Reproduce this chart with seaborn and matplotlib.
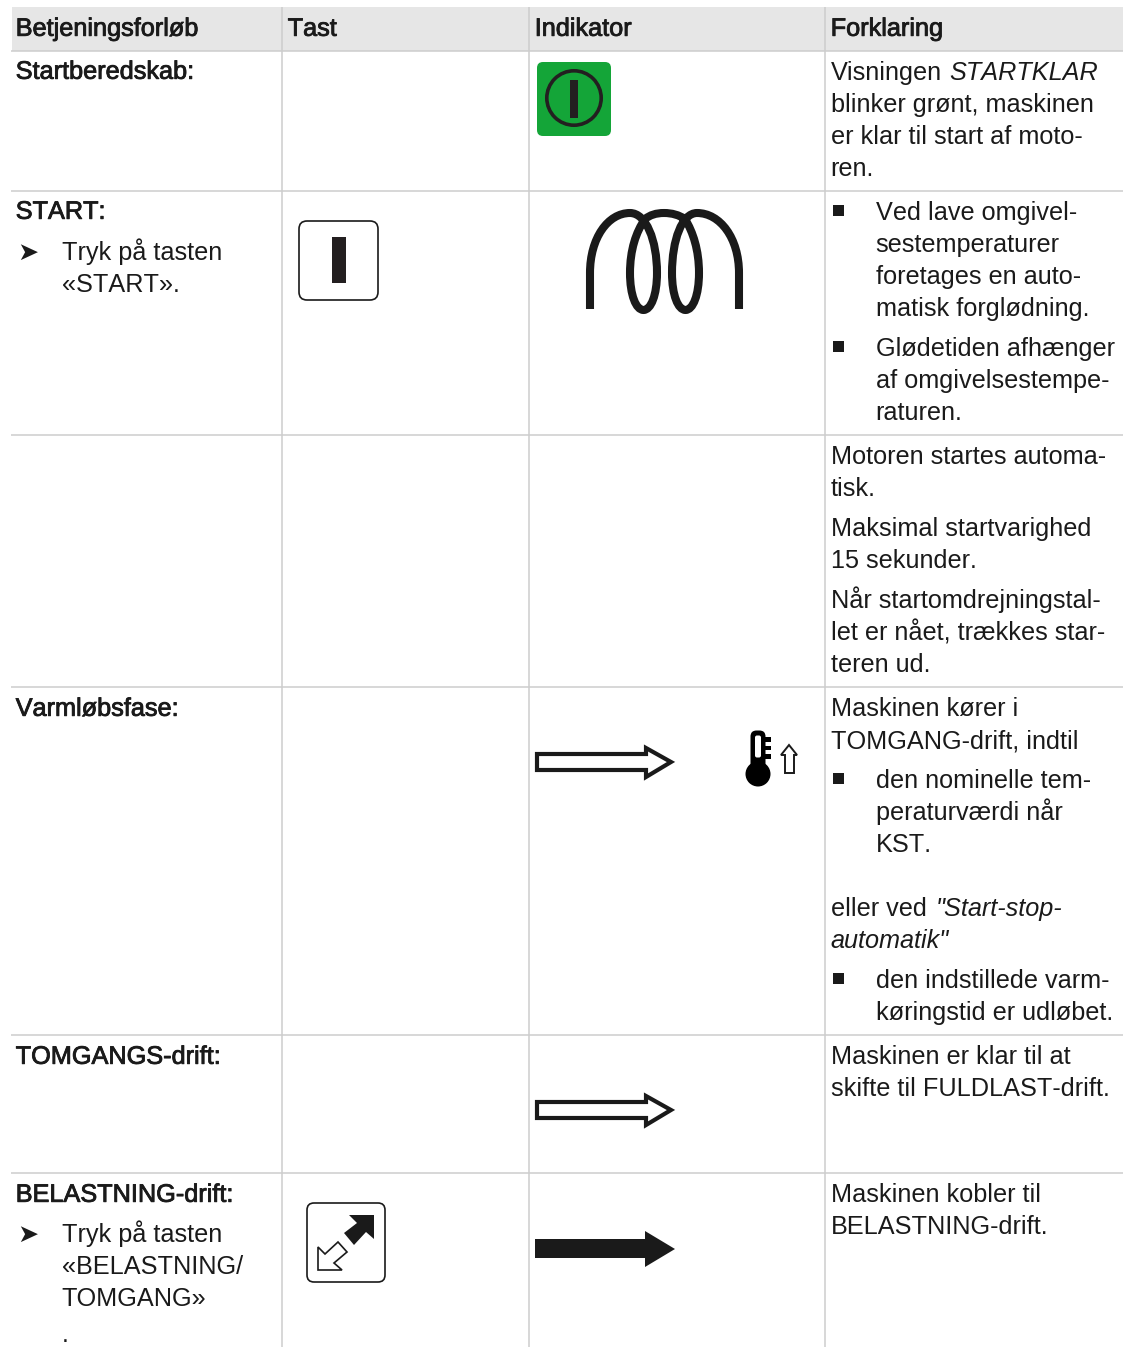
import pandas as pd
import seaborn as sns
import matplotlib
matplotlib.use("Agg")
import matplotlib.pyplot as plt
import matplotlib.patheffects as pe
from matplotlib.path import Path
from matplotlib.patches import PathPatch, Polygon, FancyBboxPatch, Circle, Rectangle

# table text
headers = ["Betjeningsforløb", "Tast", "Indikator", "Forklaring"]
steps = ["Startberedskab:", "START:", "Varmløbsfase:", "TOMGANGS-drift:", "BELASTNING-drift:"]
start_action = ["Tryk på tasten", "«START»."]
load_action = ["Tryk på tasten", "«BELASTNING/", "TOMGANG»"]
ready_text = ["blinker grønt, maskinen", "er klar til start af moto-", "ren."]
glow_a = ["Ved lave omgivel-", "sestemperaturer", "foretages en auto-", "matisk forglødning."]
glow_b = ["Glødetiden afhænger", "af omgivelsestempe-", "raturen."]
crank_a = ["Motoren startes automa-", "tisk."]
crank_b = ["Maksimal startvarighed", "15 sekunder."]
crank_c = ["Når startomdrejningstal-", "let er nået, trækkes star-", "teren ud."]
warm_a = ["Maskinen kører i", "TOMGANG-drift, indtil"]
warm_b = ["den nominelle tem-", "peraturværdi når", "KST."]
warm_c = ["den indstillede varm-", "køringstid er udløbet."]
idle_text = ["Maskinen er klar til at", "skifte til FULDLAST-drift."]
load_text = ["Maskinen kobler til", "BELASTNING-drift."]

# table rules
row_edges = [51, 191, 435, 687, 1035, 1173]
col_edges = [282, 529, 825]

sns.set_theme(style="white", rc={"figure.facecolor": "white", "axes.facecolor": "white"})
plt.rcParams["font.family"] = ["Liberation Sans", "DejaVu Sans"]
plt.rcParams["text.kerning_factor"] = 6

INK = "#1a1a1a"
RULE = "#cdcdcd"
FS = 18.2
PITCH = 32

fig, ax = plt.subplots(figsize=(11.29, 13.47), dpi=100)
fig.subplots_adjust(0, 0, 1, 1)

ax.add_patch(Rectangle((12, 7), 1111, 44, fc="#e6e6e6", ec="none", zorder=0))

rules = []
for i, y in enumerate(row_edges):
    rules += [{"x": 11, "y": y, "rule": f"h{i}"}, {"x": 1123, "y": y, "rule": f"h{i}"}]
for i, x in enumerate(col_edges):
    rules += [{"x": x, "y": 7, "rule": f"v{i}"}, {"x": x, "y": 1347, "rule": f"v{i}"}]
sns.lineplot(data=pd.DataFrame(rules), x="x", y="y", units="rule", estimator=None,
             color=RULE, linewidth=1.1, solid_capstyle="butt", legend=False, sort=False, ax=ax)


def put(x, y, s, bold=False, **kw):
    t = ax.text(x - 0.3, y + 0.3, s, fontsize=FS, color=INK, va="baseline", ha="left", **kw)
    if bold:
        t.set_path_effects([pe.withStroke(linewidth=0.6, foreground=INK)])
    return t


def block(x, y, lines):
    for i, s in enumerate(lines):
        put(x, y + i * PITCH, s)


def bullet(y):
    ax.add_patch(Rectangle((833, y - 15), 11, 11, fc=INK, ec="none"))


def pointer(y):
    put(17, y, "➤", family=["DejaVu Sans"])


for x, s in zip([16, 288, 535, 831], headers):
    put(x, 35.5, s, bold=True)

for y, s in zip([78.5, 218.5, 715.5, 1063.5, 1201.5], steps):
    put(16, y, s, bold=True)

pointer(260)
block(62, 260, start_action)
pointer(1242)
block(62, 1242, load_action)
put(62, 1342, ".")

put(831, 80, "Visningen")
put(950, 80, "STARTKLAR", style="italic")
block(831, 112, ready_text)
bullet(220)
block(876, 220, glow_a)
bullet(356)
block(876, 356, glow_b)
block(831, 464, crank_a)
block(831, 536, crank_b)
block(831, 608, crank_c)
block(831, 716, warm_a)
bullet(788)
block(876, 788, warm_b)
put(831, 916, "eller ved")
put(936, 916, '"Start-stop-', style="italic")
put(831, 948, 'automatik"', style="italic")
bullet(988)
block(876, 988, warm_c)
block(831, 1064, idle_text)
block(831, 1202, load_text)

# green ready symbol
ax.add_patch(FancyBboxPatch((542, 67), 64, 64, boxstyle="round,pad=5,rounding_size=6",
                            fc="#14a538", ec="none"))
ax.add_patch(Circle((574, 98), 27.2, fc="none", ec="#231f20", lw=2.6))
ax.add_patch(Rectangle((570, 80), 7.5, 38, fc="#231f20", ec="none"))

# start key
ax.add_patch(FancyBboxPatch((307, 229), 63, 63, boxstyle="round,pad=8,rounding_size=8",
                            fc="white", ec=INK, lw=1.2))
ax.add_patch(Rectangle((332, 237), 14, 46, fc="#231f20", ec="none"))

# glow coil
C = Path.CURVE4
coil = [
    ((590, 309), Path.MOVETO), ((590, 273), Path.LINETO),
    ((590, 238), C), ((608, 213), C), ((630, 213), C),
    ((646, 213), C), ((657, 240), C), ((657, 273), C),
    ((657, 295), C), ((651, 310), C), ((643.5, 310), C),
    ((636, 310), C), ((630, 295), C), ((630, 273), C),
    ((630, 250), C), ((636, 232), C), ((645, 219), C),
    ((650, 215), C), ((656, 213), C), ((664, 213), C),
    ((672, 213), C), ((679, 215), C), ((685, 219), C),
    ((693, 232), C), ((699, 250), C), ((699, 273), C),
    ((699, 295), C), ((693, 310), C), ((685.5, 310), C),
    ((678, 310), C), ((672, 295), C), ((672, 273), C),
    ((672, 240), C), ((682, 213), C), ((697, 213), C),
    ((720, 213), C), ((739, 238), C), ((739, 273), C),
    ((739, 309), Path.LINETO),
]
ax.add_patch(PathPatch(Path([p for p, _ in coil], [c for _, c in coil]),
                       fc="none", ec=INK, lw=5.8, capstyle="butt", joinstyle="round"))


def hollow_arrow(yc):
    pts = [(537, yc - 8), (646, yc - 8), (646, yc - 14), (671, yc), (646, yc + 15),
           (646, yc + 8), (537, yc + 8)]
    ax.add_patch(Polygon(pts, closed=True, fc="white", ec=INK, lw=3.0, joinstyle="miter"))


hollow_arrow(762)
hollow_arrow(1110)

# solid arrow
ax.add_patch(Polygon([(535, 1239), (645, 1239), (645, 1231), (675, 1249), (645, 1267),
                      (645, 1258), (535, 1258)], closed=True, fc=INK, ec="none"))

# thermometer
ax.add_patch(Circle((758, 774), 12.5, fc="black", ec="none"))
ax.add_patch(FancyBboxPatch((754, 734), 8, 36, boxstyle="round,pad=3.5,rounding_size=6",
                            fc="black", ec="none"))
ax.add_patch(FancyBboxPatch((756.5, 737), 3, 19, boxstyle="round,pad=1.5,rounding_size=2",
                            fc="white", ec="none"))
for y in [737, 745.5, 754]:
    ax.add_patch(Rectangle((764, y), 7, 4.5, fc="black", ec="none"))
ax.add_patch(Polygon([(789, 745), (797, 755), (794, 755), (794, 773), (785, 773), (785, 755),
                      (781, 755)], closed=True, fc="white", ec=INK, lw=1.4, joinstyle="miter"))

# load key
ax.add_patch(FancyBboxPatch((315, 1211), 62, 63, boxstyle="round,pad=8,rounding_size=7",
                            fc="white", ec=INK, lw=1.2))
ax.add_patch(Polygon([(374, 1215), (349, 1215), (357, 1223), (344, 1233), (354, 1245),
                      (366, 1232), (374, 1239)], closed=True, fc=INK, ec="none"))
ax.add_patch(Polygon([(318, 1270), (318, 1247), (325, 1254), (338, 1242), (347, 1252),
                      (334, 1263), (342, 1270)], closed=True, fc="white", ec=INK, lw=1.2,
                     joinstyle="miter"))

ax.set_xlim(0, 1129)
ax.set_ylim(1347, 0)
ax.axis("off")

fig.savefig("out.png", dpi=100)
